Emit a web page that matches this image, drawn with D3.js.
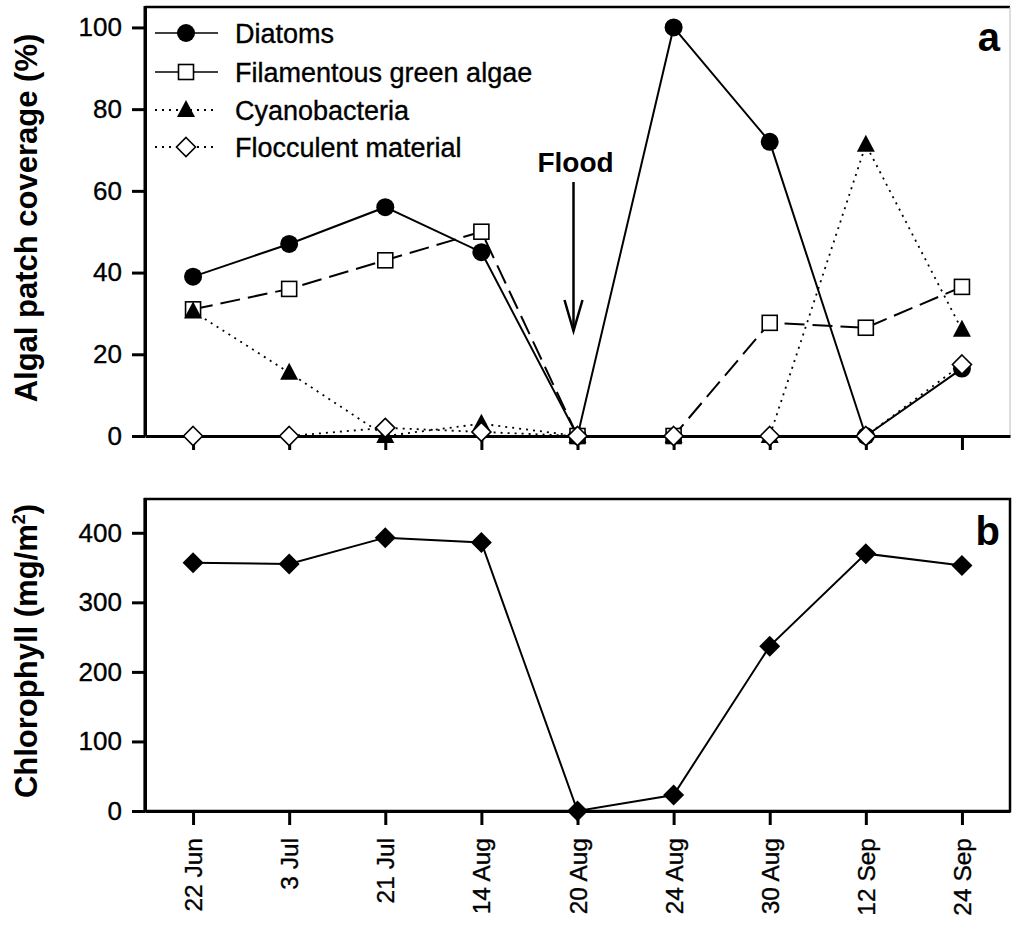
<!DOCTYPE html>
<html>
<head>
<meta charset="utf-8">
<script src="https://cdn.jsdelivr.net/npm/d3@7"></script>
<style>
  html, body { margin: 0; padding: 0; background: #fff; }
  svg { display: block; font-family: "Liberation Sans", Arial, sans-serif; }
</style>
</head>
<body>
<svg id="chart" width="1012" height="925"></svg>
<script>
// ---------- data ----------
const dates = ["22 Jun", "3 Jul", "21 Jul", "14 Aug", "20 Aug", "24 Aug", "30 Aug", "12 Sep", "24 Sep"];
const diatoms      = [39, 47, 56, 45, 0, 100, 72, 0, 16.5];
const filamentous  = [31, 36, 43, 50, 0, 0, 27.7, 26.5, 36.5];
const cyanobacteria= [30.5, 15.5, 0, 3, 0, 0, 0, 71.3, 26];
const flocculent   = [0, 0, 2, 1, 0, 0, 0, 0, 17.5];
const chlorophyll  = [357, 355, 393, 386, 0, 23, 237, 370, 353];
const coverageTicks = [0, 20, 40, 60, 80, 100];
const chlTicks = [0, 100, 200, 300, 400];
const seriesNames = ["Diatoms", "Filamentous green algae", "Cyanobacteria", "Flocculent material"];

// ---------- setup ----------
const svg = d3.select("#chart");
const idx = d3.range(dates.length);
const x = d3.scaleLinear().domain([-0.5, 8.5]).range([145, 1010]);
const yA = d3.scaleLinear().domain([0, 105]).range([436, 7]);
const yB = d3.scaleLinear().domain([0, 450]).range([811, 498]);

const tickFont = "26px";

function drawMarker(g, type, cx, cy) {
  if (type === "circle") {
    g.append("circle").attr("cx", cx).attr("cy", cy).attr("r", 9).attr("fill", "#000");
  } else if (type === "square") {
    g.append("rect").attr("x", cx - 7.5).attr("y", cy - 7.5).attr("width", 15).attr("height", 15)
      .attr("fill", "#fff").attr("stroke", "#000").attr("stroke-width", 1.6);
  } else if (type === "triangle") {
    g.append("path").attr("d", `M${cx},${cy - 10}L${cx + 9},${cy + 7}L${cx - 9},${cy + 7}Z`).attr("fill", "#000");
  } else if (type === "diamond") {
    const r = 9.5;
    g.append("path").attr("d", `M${cx},${cy - r}L${cx + r},${cy}L${cx},${cy + r}L${cx - r},${cy}Z`)
      .attr("fill", "#fff").attr("stroke", "#000").attr("stroke-width", 1.6);
  } else if (type === "diamondFilled") {
    const r = 10.5;
    g.append("path").attr("d", `M${cx},${cy - r}L${cx + r},${cy}L${cx},${cy + r}L${cx - r},${cy}Z`)
      .attr("fill", "#000");
  }
}

const styles = [
  { data: diatoms, marker: "circle", dash: null, width: 2 },
  { data: filamentous, marker: "square", dash: "20,8", width: 2 },
  { data: cyanobacteria, marker: "triangle", dash: "2,5", width: 1.8 },
  { data: flocculent, marker: "diamond", dash: "2,5", width: 1.8 }
];

function styleAxis(a) {
  a.select(".domain").attr("stroke-width", 3);
  a.selectAll(".tick line").attr("stroke-width", 3);
  a.selectAll("text").attr("font-size", tickFont).attr("fill", "#000")
    .attr("stroke", "#000").attr("stroke-width", 0.35)
    .attr("font-family", "Liberation Sans, Arial, sans-serif");
}

// ---------- panel a ----------
const gA = svg.append("g");
gA.append("line").attr("x1", 145).attr("x2", 1010).attr("y1", 7).attr("y2", 7)
  .attr("stroke", "#000").attr("stroke-width", 2.5);
gA.append("line").attr("x1", 1010).attr("x2", 1010).attr("y1", 7).attr("y2", 436)
  .attr("stroke", "#bbb").attr("stroke-width", 1);

const axA = gA.append("g").attr("transform", "translate(145,0)")
  .call(d3.axisLeft(yA).tickValues(coverageTicks).tickSize(13).tickSizeOuter(0).tickPadding(10));
const axAx = gA.append("g").attr("transform", "translate(0,436)")
  .call(d3.axisBottom(x).tickValues(idx).tickFormat("").tickSize(14).tickSizeOuter(0));
styleAxis(axA); styleAxis(axAx);
gA.append("line").attr("x1", 145).attr("x2", 145).attr("y1", 6).attr("y2", 436)
  .attr("stroke", "#000").attr("stroke-width", 3);

const line = d3.line().x((d, i) => x(i)).y(d => yA(d));
styles.forEach(s => {
  const g = gA.append("g");
  const p = g.append("path").attr("d", line(s.data)).attr("fill", "none")
    .attr("stroke", "#000").attr("stroke-width", s.width);
  if (s.dash) p.attr("stroke-dasharray", s.dash);
  s.data.forEach((v, i) => drawMarker(g, s.marker, x(i), yA(v)));
});

// legend
const lg = gA.append("g");
const rows = [33, 72, 110, 147];
styles.forEach((s, k) => {
  const y0 = rows[k];
  const l = lg.append("line").attr("x1", 155).attr("x2", 218).attr("y1", y0).attr("y2", y0)
    .attr("stroke", "#000").attr("stroke-width", s.dash === "2,5" ? 1.8 : 1.6);
  if (s.dash === "2,5") l.attr("stroke-dasharray", "2,5");
  drawMarker(lg, s.marker, 186, y0);
  lg.append("text").attr("x", 235).attr("y", y0 + 10).attr("font-size", "27px")
    .attr("stroke", "#000").attr("stroke-width", 0.35).text(seriesNames[k]);
});

// Flood annotation
const fl = gA.append("g");
const fx = x(4) - 4;
fl.append("text").attr("x", fx + 2).attr("y", 172).attr("text-anchor", "middle")
  .attr("font-size", "28px").attr("font-weight", "bold").text("Flood");
fl.append("line").attr("x1", fx).attr("x2", fx).attr("y1", 182).attr("y2", 331)
  .attr("stroke", "#000").attr("stroke-width", 2.5);
fl.append("path").attr("d", `M${fx - 9},${300}L${fx},${331}L${fx + 9},${300}`)
  .attr("fill", "none").attr("stroke", "#000").attr("stroke-width", 2.5);

gA.append("text").attr("x", 1000).attr("y", 51).attr("text-anchor", "end")
  .attr("font-size", "40px").attr("font-weight", "bold").text("a");

gA.append("text").attr("transform", "translate(37,218) rotate(-90)").attr("text-anchor", "middle")
  .attr("font-size", "31px").attr("font-weight", "bold").text("Algal patch coverage (%)");

// ---------- panel b ----------
const gB = svg.append("g");
gB.append("rect").attr("x", 145).attr("y", 499).attr("width", 865).attr("height", 312)
  .attr("fill", "none").attr("stroke", "#000").attr("stroke-width", 2.5);

const axB = gB.append("g").attr("transform", "translate(145,0)")
  .call(d3.axisLeft(yB).tickValues(chlTicks).tickSize(13).tickSizeOuter(0).tickPadding(10));
const axBx = gB.append("g").attr("transform", "translate(0,811)")
  .call(d3.axisBottom(x).tickValues(idx).tickFormat(i => dates[i]).tickSize(14).tickSizeOuter(0));
styleAxis(axB); styleAxis(axBx);
gB.append("line").attr("x1", 145).attr("x2", 145).attr("y1", 498).attr("y2", 811)
  .attr("stroke", "#000").attr("stroke-width", 3);

axBx.selectAll(".tick text")
  .attr("font-size", "24.5px")
  .attr("transform", "rotate(-90)")
  .attr("x", -27).attr("y", 0).attr("dy", "0.35em")
  .attr("text-anchor", "end");

const lineB = d3.line().x((d, i) => x(i)).y(d => yB(d));
gB.append("path").attr("d", lineB(chlorophyll)).attr("fill", "none")
  .attr("stroke", "#000").attr("stroke-width", 2);
chlorophyll.forEach((v, i) => drawMarker(gB, "diamondFilled", x(i), yB(v)));

gB.append("text").attr("x", 1000).attr("y", 545).attr("text-anchor", "end")
  .attr("font-size", "40px").attr("font-weight", "bold").text("b");

const tB = gB.append("text").attr("transform", "translate(37,651) rotate(-90)").attr("text-anchor", "middle")
  .attr("font-size", "31px").attr("font-weight", "bold");
tB.append("tspan").text("Chlorophyll (mg/m");
tB.append("tspan").attr("font-size", "18px").attr("dy", "-12").text("2");
tB.append("tspan").attr("dy", "12").text(")");
</script>
</body>
</html>
